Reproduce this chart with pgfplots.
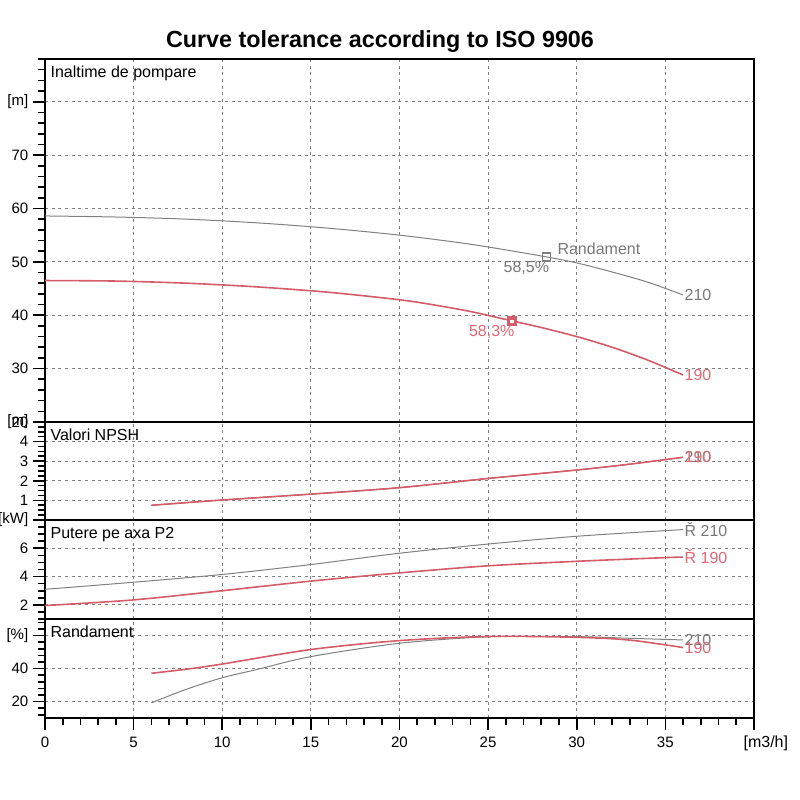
\documentclass[border=0pt]{standalone}
\usepackage{fontspec}
\setmainfont{Liberation Sans}
\usepackage{pgfplots}
\pgfplotsset{compat=1.18}
\definecolor{gline}{RGB}{128,128,128}
\definecolor{gtext}{RGB}{120,120,120}
\definecolor{rline}{RGB}{212,92,104}
\definecolor{rtext}{RGB}{222,104,116}
\newcommand\lf{\fontsize{12}{14}\selectfont}
\tikzset{ttl/.style={anchor=north west, font=\lf, inner sep=0pt}}
\pgfplotsset{
  base/.style={
    scale only axis, width=531.75pt, xmin=0, xmax=40, anchor=south west,
    tick align=outside, ytick pos=left, xtick pos=bottom,
    grid=major,
    major grid style={gray, line width=0.6pt, dash pattern=on 2.2pt off 2.8pt},
    axis line style={line width=2.2pt},
    major tick length=9pt, minor tick length=5pt,
    every tick/.style={black, line width=1.2pt},
    tick label style={font=\fontsize{11.3}{13}\selectfont, black},
    /pgf/number format/assume math mode=true,
    clip=false,
    xtick={5,10,...,35},
  },
  upper/.style={xticklabels={}, xtick style={draw=none}, minor xtick={}},
  gcurve/.style={gline, line width=0.75pt, smooth, no marks},
  rcurve/.style={rline, line width=1.2pt, smooth, no marks},
}
\begin{document}
\begin{tikzpicture}
\path[use as bounding box] (0,0) rectangle (600pt,600pt);
\node[font=\bfseries\fontsize{17.5}{20}\selectfont] at (285pt,568.5pt) {Curve tolerance according to ISO 9906};

% Head
\begin{axis}[base, upper, at={(33.75pt,283.5pt)}, height=272.25pt,
  ymin=20, ymax=88, ytick={20,30,...,80}, yticklabels={20,30,40,50,60,70,{[m]}},
  minor ytick={22,24,...,88}]
\addplot[gcurve] coordinates {(0,58.6)(4,58.4)(8,58.0)(12,57.3)(16,56.3)(20,55.0)(24,53.3)(28,51.1)(30,49.8)(32,48.1)(34,46.2)(36,43.8)};
\addplot[rcurve] coordinates {(0,46.5)(4,46.4)(8,46.0)(12,45.3)(16,44.3)(20,42.9)(22,41.9)(24,40.7)(26,39.2)(28,37.7)(30,36.0)(32,34.0)(34,31.6)(36,28.8)};
\addplot[only marks, mark=square, mark size=3pt, gline, mark options={line width=1.3pt, fill=white}] coordinates {(28.3,50.9)};
\addplot[only marks, mark=square*, mark size=2.6pt, rline, mark options={line width=2.4pt, fill=white}] coordinates {(26.35,38.85)};
\node[ttl] at ([xshift=4pt,yshift=-5pt]rel axis cs:0,1) {Inaltime de pompare};
\node[anchor=west, inner sep=1pt, text=gtext, font=\lf] at (axis cs:36,43.8) {210};
\node[anchor=west, inner sep=1pt, text=rtext, font=\lf] at (axis cs:36,28.8) {190};
\node[anchor=north east, inner sep=0pt, text=gtext, font=\lf] at ([xshift=2pt,yshift=-3pt]axis cs:28.3,50.9) {58,5\%};
\node[anchor=north east, inner sep=0pt, text=rtext, font=\lf] at ([xshift=2pt,yshift=-3pt]axis cs:26.35,38.85) {58,3\%};
\node[anchor=west, inner sep=0pt, text=gtext, font=\lf] at ([xshift=8pt,yshift=6.5pt]axis cs:28.3,50.9) {Randament};
\end{axis}

% NPSH
\begin{axis}[base, upper, at={(33.75pt,210pt)}, height=73.5pt,
  ymin=0, ymax=5, ytick={0,1,...,5}, yticklabels={{},1,2,3,4,{[m]}},
  minor ytick={0,0.25,...,5}]
\addplot[gcurve] coordinates {(6,0.75)(10,1.02)(15,1.32)(20,1.65)(25,2.12)(30,2.55)(33,2.85)(36,3.2)};
\addplot[rcurve] coordinates {(6,0.75)(10,1.02)(15,1.32)(20,1.65)(25,2.12)(30,2.55)(33,2.85)(36,3.2)};
\node[ttl] at ([xshift=4pt,yshift=-5pt]rel axis cs:0,1) {Valori NPSH};
\node[anchor=west, inner sep=1pt, text=gtext, font=\lf] at (axis cs:36,3.2) {210};
\node[anchor=west, inner sep=1pt, text=rtext, font=\lf] at (axis cs:36,3.2) {190};
\end{axis}

% Power
\begin{axis}[base, upper, at={(33.75pt,135.75pt)}, height=74.25pt,
  ymin=1, ymax=8, ytick={2,4,6,8}, yticklabels={2,4,6,{[kW]}},
  minor ytick={1,1.5,...,8}]
\addplot[gcurve] coordinates {(0,3.1)(5,3.6)(10,4.15)(15,4.85)(20,5.65)(25,6.3)(30,6.85)(35,7.25)(36,7.32)};
\addplot[rcurve] coordinates {(0,1.95)(5,2.35)(10,3.0)(15,3.68)(20,4.26)(25,4.76)(30,5.08)(35,5.34)(36,5.38)};
\node[ttl] at ([xshift=4pt,yshift=-5pt]rel axis cs:0,1) {Putere pe axa P2};
\node[anchor=west, inner sep=1pt, text=gtext, font=\lf] at (axis cs:36,7.32) {Ř 210};
\node[anchor=west, inner sep=1pt, text=rtext, font=\lf] at (axis cs:36,5.38) {Ř 190};
\end{axis}

% Efficiency
\begin{axis}[base, at={(33.75pt,61.5pt)}, height=74.25pt,
  ymin=10, ymax=70, ytick={20,40,60}, yticklabels={20,40,{[\%]}},
  minor ytick={12,16,...,68},
  xtick={0,5,...,40}, xticklabels={0,5,10,15,20,25,30,35,{}},
  minor xtick={0,1,...,40}, xticklabel style={yshift=-2pt}]
\addplot[gcurve] coordinates {(6,19.2)(8,27.5)(10,34.4)(12,39.5)(15,47.2)(20,55.3)(25,59.2)(30,59.3)(33,58.3)(36,57.3)};
\addplot[rcurve] coordinates {(6,37.1)(8,39.6)(10,42.7)(15,51.5)(20,56.9)(25,59.4)(30,58.9)(33,57.2)(36,52.7)};
\node[ttl] at ([xshift=4pt,yshift=-5pt]rel axis cs:0,1) {Randament};
\node[anchor=west, inner sep=1pt, text=gtext, font=\lf] at (axis cs:36,57.3) {210};
\node[anchor=west, inner sep=1pt, text=rtext, font=\lf] at (axis cs:36,52.4) {190};
\node[anchor=base west, inner sep=0pt, font=\lf] at ([xshift=-8pt,yshift=-22pt]axis cs:40,10) {[m3/h]};
\end{axis}
\end{tikzpicture}
\end{document}
